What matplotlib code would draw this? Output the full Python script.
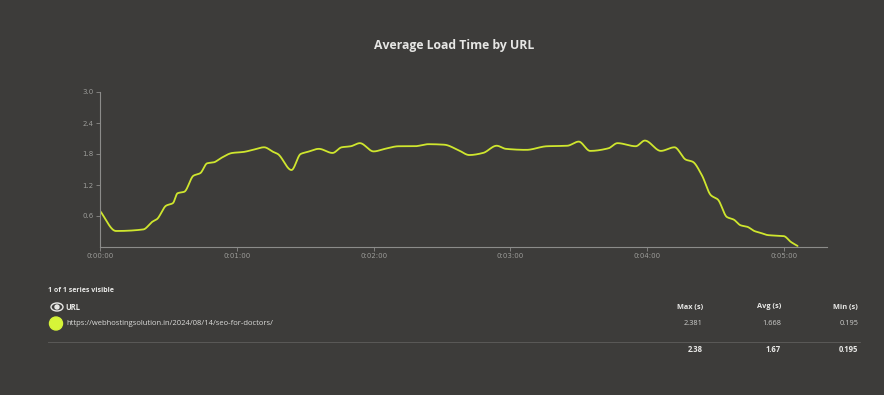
import matplotlib
matplotlib.use("Agg")
import matplotlib.pyplot as plt
from matplotlib.patches import Ellipse
import numpy as np

# load time readings (seconds since start -> average load time in s)
time_s = [0, 7, 19, 23, 25, 29, 32, 34, 37, 41, 44, 47, 50, 53, 58, 63, 67, 72,
          76, 78, 84, 88, 91, 96, 102, 106, 110, 114, 120, 125, 131, 138, 144,
          151, 157, 162, 168, 174, 178, 187, 196, 205, 210, 215, 223, 227, 235,
          239, 246, 252, 257, 260, 264, 268, 271, 275, 278, 281, 284, 287, 290,
          293, 300, 303, 306]
load_s = [0.70, 0.31, 0.34, 0.49, 0.54, 0.80, 0.85, 1.04, 1.07, 1.38, 1.43, 1.62,
          1.64, 1.72, 1.82, 1.84, 1.88, 1.93, 1.84, 1.80, 1.49, 1.80, 1.84, 1.90,
          1.82, 1.93, 1.95, 2.01, 1.85, 1.90, 1.95, 1.95, 1.99, 1.98, 1.88, 1.78,
          1.82, 1.96, 1.90, 1.88, 1.95, 1.96, 2.04, 1.86, 1.91, 2.01, 1.95, 2.06,
          1.86, 1.93, 1.69, 1.65, 1.39, 1.00, 0.92, 0.58, 0.53, 0.42, 0.39, 0.31,
          0.27, 0.23, 0.21, 0.10, 0.02]

x_ticks = [0, 60, 120, 180, 240, 300]
x_labels = ["0:00:00", "0:01:00", "0:02:00", "0:03:00", "0:04:00", "0:05:00"]
y_ticks = [0.6, 1.2, 1.8, 2.4, 3.0]

url = "https://webhostingsolution.in/2024/08/14/seo-for-doctors/"
col_names = ["Max (s)", "Avg (s)", "Min (s)"]
row_vals = ["2.381", "1.668", "0.195"]
total_vals = ["2.38", "1.67", "0.195"]

bg = "#3d3c3a"
line_col = "#cfe62e"
grey = "#8c8c8a"
W, H = 884, 395


def pchip(x, y, n=2000):
    # monotone cubic just for a smooth drawn line
    x = np.asarray(x, float)
    y = np.asarray(y, float)
    h = np.diff(x)
    d = np.diff(y) / h
    m = np.zeros_like(y)
    for k in range(1, len(x) - 1):
        if d[k - 1] * d[k] > 0:
            w1 = 2 * h[k] + h[k - 1]
            w2 = h[k] + 2 * h[k - 1]
            m[k] = (w1 + w2) / (w1 / d[k - 1] + w2 / d[k])
    m[0] = d[0]
    m[-1] = d[-1]
    xs = np.linspace(x[0], x[-1], n)
    idx = np.clip(np.searchsorted(x, xs) - 1, 0, len(x) - 2)
    t = (xs - x[idx]) / h[idx]
    h00 = 2 * t**3 - 3 * t**2 + 1
    h10 = t**3 - 2 * t**2 + t
    h01 = -2 * t**3 + 3 * t**2
    h11 = t**3 - t**2
    ys = h00 * y[idx] + h10 * h[idx] * m[idx] + h01 * y[idx + 1] + h11 * h[idx] * m[idx + 1]
    return xs, ys


def px(x, y):
    return x / W, 1 - y / H


fig = plt.figure(figsize=(8.84, 3.95), dpi=100, facecolor=bg)
ax = fig.add_axes([100 / W, 1 - 247 / H, 727 / W, 155 / H])
ax.set_facecolor(bg)

xs, ys = pchip(time_s, load_s)
ax.plot(xs, ys, color=line_col, lw=1.3, solid_capstyle="round")

ax.set_xlim(0, 318.9)
ax.set_ylim(0, 3.0)
ax.set_xticks(x_ticks)
ax.set_xticklabels(x_labels)
ax.set_yticks(y_ticks)
ax.set_yticklabels([f"{v:.1f}" for v in y_ticks])
for s in ["top", "right"]:
    ax.spines[s].set_visible(False)
for s in ["left", "bottom"]:
    ax.spines[s].set_color(grey)
    ax.spines[s].set_linewidth(0.8)
ax.tick_params(colors=grey, labelcolor="#9c9c99", labelsize=5, length=3, width=0.6, pad=1.5)

fig.text(*px(454, 45), "Average Load Time by URL", ha="center", va="center",
         color="#e6e6e4", fontsize=8.8, fontweight="bold", family="Open Sans")

fs = dict(family="Open Sans", color="#e8e8e6")
fig.text(*px(48, 290), "1 of 1 series visible", ha="left", va="center",
         fontsize=5, fontweight="bold", **fs)

# eye icon
fig.patches.append(Ellipse(px(57, 307), 12 / W, 8 / H, fill=False,
                           ec="#e8e8e6", lw=1.0, transform=fig.transFigure))
fig.patches.append(Ellipse(px(57, 307), 4 / W, 4 / H, color="#e8e8e6",
                           transform=fig.transFigure))
fig.text(*px(65, 307), "URL", ha="left", va="center", fontsize=5.5,
         fontweight="bold", **fs)

# series marker
fig.patches.append(Ellipse(px(56, 323.5), 13 / W, 13 / H, color="#d6f438",
                           transform=fig.transFigure))
fig.text(*px(66, 323.5), url, ha="left", va="center", fontsize=5.5,
         color="#dcdcda", family="Open Sans")

col_x = [703, 781, 858]
for cx, name, val, tot in zip(col_x, col_names, row_vals, total_vals):
    fig.text(*px(cx, 307), name, ha="right", va="center", fontsize=5.3,
             fontweight="bold", **fs)
    fig.text(*px(cx, 323.5), val, ha="right", va="center", fontsize=5.3,
             color="#cfcfcd", family="Open Sans")
    fig.text(*px(cx, 350), tot, ha="right", va="center", fontsize=5.5,
             fontweight="bold", **fs)

fig.add_artist(plt.Line2D([48 / W, 860 / W], [1 - 342 / H] * 2, color="#5a5957",
                          lw=0.7, transform=fig.transFigure))

fig.savefig("out.png", dpi=100, facecolor=bg)
